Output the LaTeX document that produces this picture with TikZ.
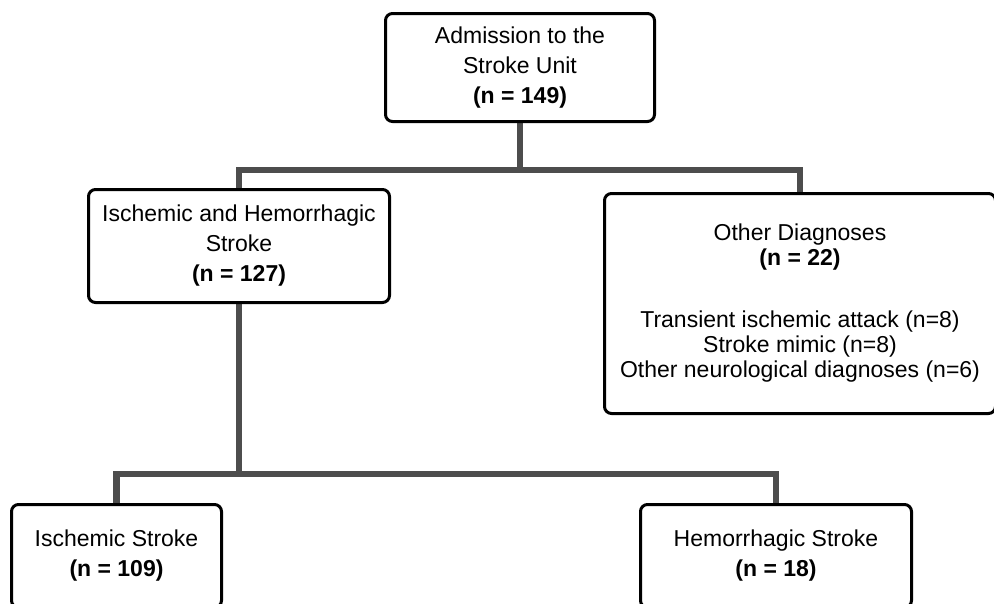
\documentclass[tikz,border=0pt]{standalone}
\usepackage{fontspec}
\setmainfont{Liberation Sans}
\usetikzlibrary{backgrounds}
\definecolor{connc}{HTML}{4D4D4D}
\begin{document}
\begin{tikzpicture}[x=1pt,y=-1pt,
  box/.style={draw=black, line width=3pt, rounded corners=7pt, fill=white,
    align=center, inner sep=0pt, font=\fontsize{23}{30}\selectfont},
  tightbox/.style={box, font=\fontsize{23}{25}\selectfont},
  conn/.style={draw=connc, line width=6.5pt}]
\useasboundingbox (0,0) rectangle (994,603);
\node[box, minimum width=269pt, minimum height=108pt] (adm) at (520,67.5)
  {Admission to the\\Stroke Unit\\\textbf{(n = 149)}};
\node[box, minimum width=301pt, minimum height=113pt] (ihs) at (239,246)
  {Ischemic and Hemorrhagic\\Stroke\\\textbf{(n = 127)}};
\node[tightbox, minimum width=391pt, minimum height=220pt] (oth) at (800,303.5)
  {Other Diagnoses\\\textbf{(n = 22)}\\[37pt]Transient ischemic attack (n=8)\\Stroke mimic (n=8)\\Other neurological diagnoses (n=6)};
\node[box, minimum width=210pt, minimum height=103pt] (isc) at (116.5,556)
  {Ischemic Stroke\\\textbf{(n = 109)}};
\node[box, minimum width=271pt, minimum height=103pt] (hem) at (776,556)
  {Hemorrhagic Stroke\\\textbf{(n = 18)}};
\coordinate (j1) at (520,170);
\coordinate (j2) at (239,474);
\begin{scope}[on background layer]
  \fill[white] (0,0) rectangle (994,603);
  \draw[conn] (adm.south) -- (j1);
  \draw[conn] (ihs.north) |- (j1) -| (oth.north);
  \draw[conn] (ihs.south) -- (j2);
  \draw[conn] (isc.north) |- (j2) -| (hem.north);
\end{scope}
\end{tikzpicture}
\end{document}
